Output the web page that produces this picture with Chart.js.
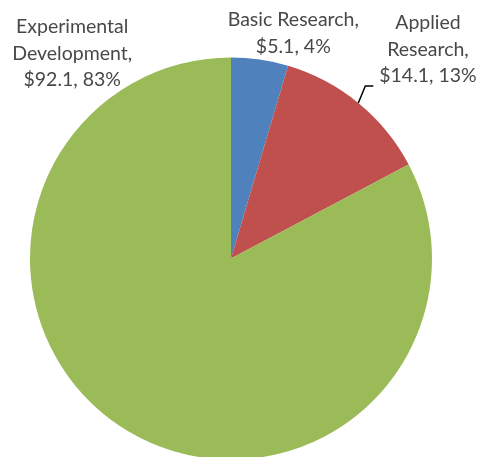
<!DOCTYPE html>
<html lang="en">
<head>
    <meta charset="UTF-8">
    <title>R&D Spending</title>
    <script src="https://cdn.jsdelivr.net/npm/chart.js"></script>
    <style>
        html, body {
            margin: 0;
            padding: 0;
            overflow: hidden;
            background: #fff;
        }
        .container {
            width: 478px;
            height: 460px;
        }
    </style>
</head>
<body>
    <div class="container">
        <canvas id="pieChart"></canvas>
    </div>

    <script>
        // Data ($ billions)
        const categories = ['Basic Research', 'Applied Research', 'Experimental Development'];
        const amounts = [5.1, 14.1, 92.1];
        const percents = [4, 13, 83];
        const colors = ['#4F81BD', '#C0504D', '#9BBB59'];

        // Label text lines as Excel wrapped them
        const labelLines = [
            ['Basic Research,', '$5.1, 4%'],
            ['Applied', 'Research,', '$14.1, 13%'],
            ['Experimental', 'Development,', '$92.1, 83%']
        ];

        // Label block centres, relative to the pie centre, in radii
        const labelOffsets = [
            [0.31, -1.12],
            [0.98, -1.04],
            [-0.79, -1.02]
        ];

        const pieLabels = {
            id: 'pieLabels',
            afterDraw(chart) {
                const ctx = chart.ctx;
                const arcs = chart.getDatasetMeta(0).data;
                const lineH = 26.5;
                ctx.save();
                ctx.font = '19.5px Lato';
                ctx.fillStyle = '#484848';
                ctx.textAlign = 'center';
                ctx.textBaseline = 'middle';
                arcs.forEach((arc, i) => {
                    const r = arc.outerRadius;
                    const cx = arc.x + labelOffsets[i][0] * r;
                    const cy = arc.y + labelOffsets[i][1] * r;
                    const lines = labelLines[i];
                    const top = cy - (lines.length - 1) * lineH / 2;
                    lines.forEach((t, j) => ctx.fillText(t, cx, top + j * lineH));

                    // leader line for the applied research label
                    if (i === 1) {
                        const mid = (arc.startAngle + arc.endAngle) / 2;
                        const sx = arc.x + Math.cos(mid) * r;
                        const sy = arc.y + Math.sin(mid) * r;
                        const ly = top + 2 * lineH + 10;
                        ctx.strokeStyle = '#000';
                        ctx.lineWidth = 1.5;
                        ctx.beginPath();
                        ctx.moveTo(sx, sy);
                        ctx.lineTo(sx + 7, ly);
                        ctx.lineTo(sx + 15, ly);
                        ctx.stroke();
                    }
                });
                ctx.restore();
            }
        };

        const ctx = document.getElementById('pieChart').getContext('2d');
        new Chart(ctx, {
            type: 'pie',
            data: {
                labels: categories,
                datasets: [{
                    data: amounts,
                    backgroundColor: colors,
                    borderWidth: 0
                }]
            },
            options: {
                responsive: true,
                maintainAspectRatio: false,
                animation: false,
                layout: {
                    padding: { left: 30, right: 46, top: 57, bottom: 0 }
                },
                plugins: {
                    legend: { display: false },
                    tooltip: { enabled: false }
                }
            },
            plugins: [pieLabels]
        });
    </script>
</body>
</html>
